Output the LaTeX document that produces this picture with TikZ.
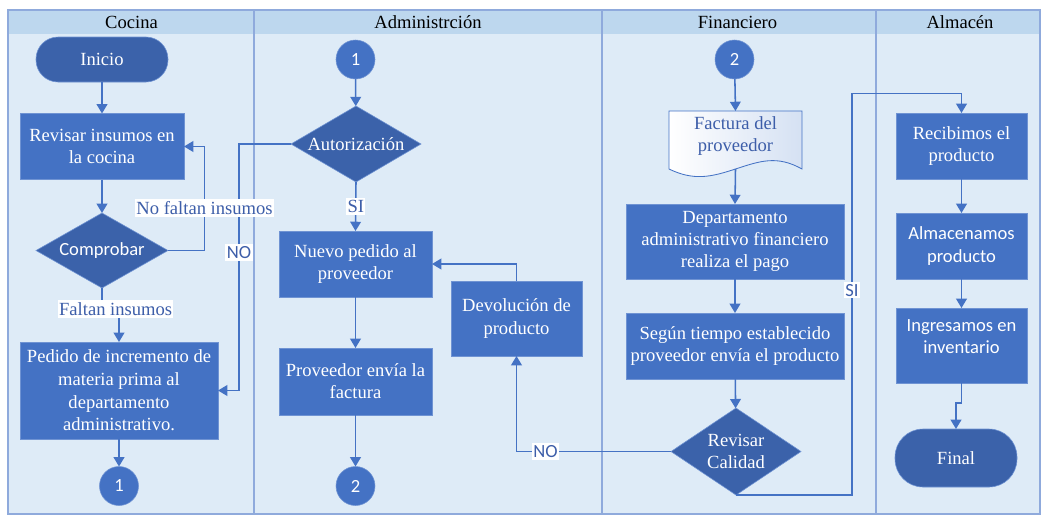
\documentclass[tikz,border=0pt]{standalone}
\usepackage{fontspec}
\setmainfont{Liberation Serif}
\newfontfamily\carlito{Carlito}
\usetikzlibrary{shapes.geometric,arrows.meta,calc}

% one drawing unit
\newdimen\pxu
\pxu=0.025cm

\definecolor{hdrfill}{HTML}{BDD7EE}
\definecolor{lanefill}{HTML}{DEEBF7}
\definecolor{laneline}{HTML}{8FAADC}
\definecolor{boxblue}{HTML}{4472C4}
\definecolor{darkblue}{HTML}{3B62AA}
\definecolor{boxedge}{HTML}{6F93D3}
\definecolor{flowline}{HTML}{4472C4}
\definecolor{lbltext}{HTML}{3D5EA9}
\definecolor{docblue}{HTML}{D5E1F3}

\newcommand{\serifsize}{\fontsize{13.2pt}{15.8pt}\selectfont}
\newcommand{\sanssize}{\carlito\fontsize{13.2pt}{15.8pt}\selectfont}

\begin{document}
\begin{tikzpicture}[x=0.025cm,y=-0.025cm,
  lanerule/.style={draw=laneline, line width=1pt},
  header/.style={font=\serifsize, text=black, inner sep=0pt},
  procbox/.style={rectangle, fill=boxblue, draw=boxedge, line width=0.4pt,
    text=white, align=center, inner sep=0pt, outer sep=0pt, font=\serifsize},
  procsans/.style={procbox, font=\sanssize},
  terminal/.style={rectangle, fill=darkblue, draw=boxedge, line width=0.4pt,
    text=white, inner sep=0pt, outer sep=0pt, font=\serifsize},
  decision/.style={diamond, fill=darkblue, draw=boxedge, line width=0.4pt,
    text=white, align=center, inner sep=0pt, outer sep=0pt, font=\serifsize},
  connector/.style={circle, fill=boxblue, draw=boxedge, line width=0.4pt,
    minimum size=39\pxu, inner sep=0pt, outer sep=0pt, text=white, font=\sanssize},
  arr/.style={draw=flowline, line width=1.1pt,
    -{Triangle[width=7.6pt,length=6.6pt]}},
  lbl/.style={fill=white, text=lbltext, inner xsep=1pt, inner ysep=1.5pt, font=\serifsize},
  lblsans/.style={fill=white, text=lbltext, inner xsep=1pt, inner ysep=1.5pt, font=\sanssize},
]
\useasboundingbox (0,0) rectangle (1046,516);
\fill[white] (0,0) rectangle (1046,516);

% swimlanes
\fill[lanefill] (8,10) rectangle (1040,514);
\fill[hdrfill] (8,10) rectangle (1040,34);
\draw[lanerule] (8,10) rectangle (1040,514);
\draw[lanerule] (254,10) -- (254,514);
\draw[lanerule] (602,10) -- (602,514);
\draw[lanerule] (876,10) -- (876,514);

\node[header] (hcocina) at (131.5,22.5) {Cocina};
\node[header] (hadmin) at (428,22.5) {Administrción};
\node[header] (hfin) at (737.5,22.5) {Financiero};
\node[header] (halm) at (960,22.5) {Almacén};

% Cocina
\node[terminal, minimum width=132\pxu, minimum height=45\pxu, rounded corners=22\pxu]
  (inicio) at (102,59.5) {Inicio};
\node[procbox, minimum width=164\pxu, minimum height=66\pxu]
  (revisar) at (102,146.5) {Revisar insumos en\\la cocina};
\node[decision, minimum width=132\pxu, minimum height=75\pxu, aspect=1.76, font=\sanssize]
  (comprobar) at (102,250.5) {Comprobar};
\node[procbox, minimum width=198\pxu, minimum height=97\pxu, font=\fontsize{13.2pt}{16.1pt}\selectfont]
  (pedido) at (119,390.5) {Pedido de incremento de\\materia prima al\\departamento\\administrativo.};
\node[connector] (cona) at (119,486) {1};

% Administracion
\node[connector] (conb) at (355.5,59.5) {1};
\node[decision, minimum width=130\pxu, minimum height=76\pxu, aspect=1.71]
  (autor) at (356,144) {Autorización};
\node[procbox, minimum width=153\pxu, minimum height=66\pxu]
  (nuevo) at (355.5,264) {Nuevo pedido al\\proveedor};
\node[procbox, minimum width=131\pxu, minimum height=75\pxu]
  (devol) at (516.5,318.5) {Devolución de\\producto};
\node[procbox, minimum width=153\pxu, minimum height=67\pxu]
  (prov) at (355.5,381.5) {Proveedor envía la\\factura};
\node[connector] (conc) at (355.5,486) {2};

% Financiero
\node[connector] (cond) at (734.5,59.5) {2};
\node[minimum width=133\pxu, minimum height=58\pxu, inner sep=0pt, outer sep=0pt]
  (factura) at (735.5,140) {};
\draw[draw=boxblue, line width=0.6pt, left color=white, right color=docblue]
  (factura.north west) -- (factura.north east) -- (factura.south east)
  .. controls ($(factura.south east)+(-25,-14)$) and ($(factura.south)+(24.5,-8)$) .. (factura.south)
  .. controls ($(factura.south)+(-24.5,8)$) and ($(factura.south west)+(25,12)$) .. (factura.south west)
  -- cycle;
\node[align=center, text=lbltext, font=\serifsize, inner sep=0pt]
  (facturatxt) at ($(factura.center)+(0,-4)$) {Factura del\\proveedor};
\node[procbox, minimum width=218\pxu, minimum height=75\pxu]
  (dept) at (735,241.5) {Departamento\\administrativo financiero\\realiza el pago};
\node[procbox, minimum width=218\pxu, minimum height=66\pxu]
  (segun) at (735,346) {Según tiempo establecido\\proveedor envía el producto};
\node[decision, minimum width=130\pxu, minimum height=87\pxu, aspect=1.49]
  (calidad) at (736,451.5) {Revisar\\Calidad};

% Almacen
\node[procbox, minimum width=131\pxu, minimum height=66\pxu]
  (recib) at (961.5,146) {Recibimos el\\producto};
\node[procsans, minimum width=131\pxu, minimum height=66\pxu]
  (almac) at (961.5,246) {Almacenamos\\producto};
\node[procsans, minimum width=131\pxu, minimum height=75\pxu]
  (ingres) at (961.5,345.5) {Ingresamos en\\inventario\\[-3pt]\mbox{}};
\node[terminal, minimum width=122\pxu, minimum height=58\pxu, rounded corners=28\pxu]
  (final) at (956,458) {Final};

% flow: Cocina
\draw[arr] (inicio) -- (revisar);
\draw[arr] (revisar) -- (comprobar);
\draw[arr] (pedido) -- (cona);
\draw[arr] (comprobar.south) -- ++(0,21) -| node[lbl,pos=0.4] {Faltan insumos} (pedido.north);
% rejected authorization goes back to the kitchen request
\draw[arr] (autor.west) -- ++(-52,0) |- node[lblsans,pos=0.22] {NO} (pedido.east);
\draw[arr] (comprobar.east) -| node[lbl,pos=0.705] {No faltan insumos}
  ($(revisar.east)+(20.5,0)$) -- (revisar.east);

% flow: Administracion
\draw[arr] (conb) -- (autor);
\draw[arr] (autor.south) -- node[lbl] {SI} (nuevo.north);
\draw[arr] (nuevo) -- (prov);
\draw[arr] (prov) -- (conc);
\draw[arr] (devol.north) |- (nuevo.east);

% flow: Financiero
\draw[arr] (cond) -- (factura.north);
\draw[arr] (factura.south) -- (dept.north);
\draw[arr] (dept) -- (segun);
\draw[arr] (segun) -- (calidad);
\draw[arr] (calidad.west) -| node[lblsans,pos=0.406] {NO} (devol.south);
\draw[arr] (calidad.south) -- ++(116,0) -- node[lblsans,pos=0.51] {SI} ++(0,-401.5)
  -| (recib.north);

% flow: Almacen
\draw[arr] (recib) -- (almac);
\draw[arr] (almac) -- (ingres);
\draw[arr] (ingres.south) -- ++(0,20) -| (final.north);
\end{tikzpicture}
\end{document}
